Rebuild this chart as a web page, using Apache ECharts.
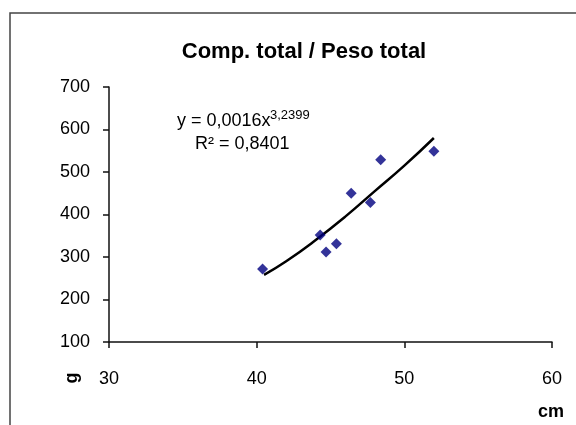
<!DOCTYPE html>
<html>
<head>
<meta charset="utf-8">
<script src="https://cdn.jsdelivr.net/npm/echarts@6/dist/echarts.min.js"></script>
<style>html,body{margin:0;padding:0;background:#fff}#c{width:576px;height:425px}</style>
</head>
<body>
<div id="c"></div>
<script>
// Observed points: total length (cm) vs total weight (g)
const lengthCm = [40.4, 44.3, 44.7, 45.4, 46.4, 47.7, 48.4, 52.0];
const weightG  = [272, 352, 312, 331, 450, 428, 529, 549];
// Power trend line
const trendX = [40.5, 42, 44, 46, 48, 50, 52];
const trendY = [258, 290, 340, 395, 455, 515, 580];
const xTicks = [30, 40, 50, 60];
const yTicks = [100, 200, 300, 400, 500, 600, 700];

const FONT = '"Liberation Sans Narrow", "Arial Narrow", "Liberation Sans", Arial, sans-serif';
const chart = echarts.init(document.getElementById('c'), null, {renderer: 'canvas'});
chart.setOption({
  animation: false,
  backgroundColor: '#fff',
  title: {
    text: 'Comp. total / Peso total',
    left: 299, top: 36, textAlign: 'center',
    textStyle: {fontFamily: FONT, fontWeight: 'bold', fontSize: 22, color: '#000'}
  },
  grid: {left: 109, right: 24, top: 87, bottom: 83},
  xAxis: {
    type: 'value', min: xTicks[0], max: xTicks[xTicks.length - 1], interval: 10,
    axisLine: {show: true, lineStyle: {color: '#111', width: 1.5}},
    axisTick: {show: true, length: 6, inside: false, lineStyle: {color: '#111', width: 1.5}},
    axisLabel: {margin: 28, fontFamily: FONT, fontSize: 18, color: '#000'},
    splitLine: {show: false}
  },
  yAxis: {
    type: 'value', min: yTicks[0], max: yTicks[yTicks.length - 1], interval: 100,
    axisLine: {show: true, lineStyle: {color: '#111', width: 1.5}},
    axisTick: {show: true, length: 6, lineStyle: {color: '#111', width: 1.5}},
    axisLabel: {margin: 19, fontFamily: FONT, fontSize: 18, color: '#000'},
    splitLine: {show: false}
  },
  series: [
    {
      type: 'line', data: trendX.map((x, i) => [x, trendY[i]]),
      smooth: true, symbol: 'none',
      lineStyle: {color: '#000', width: 2.5}, z: 2
    },
    {
      type: 'scatter', data: lengthCm.map((x, i) => [x, weightG[i]]),
      symbol: 'diamond', symbolSize: 11,
      itemStyle: {color: '#000080'}, z: 3
    }
  ],
  graphic: [
    {type: 'rect', shape: {x: 10, y: 13, width: 620, height: 460},
     style: {fill: 'none', stroke: '#444', lineWidth: 1.5}, silent: true},
    {type: 'text', x: 177, y: 130, style: {text: 'y = 0,0016x', fontFamily: FONT, fontSize: 18, fill: '#000', textVerticalAlign: 'bottom'}},
    {type: 'text', x: 270, y: 122, style: {text: '3,2399', fontFamily: FONT, fontSize: 13, fill: '#000', textVerticalAlign: 'bottom'}},
    {type: 'text', x: 195, y: 153, style: {text: 'R² = 0,8401', fontFamily: FONT, fontSize: 18, fill: '#000', textVerticalAlign: 'bottom'}},
    {type: 'text', x: 72, y: 378, rotation: Math.PI / 2,
     style: {text: 'g', fontFamily: FONT, fontSize: 18, fontWeight: 'bold', fill: '#000', textAlign: 'center', textVerticalAlign: 'middle'}},
    {type: 'text', x: 551, y: 412,
     style: {text: 'cm', fontFamily: FONT, fontSize: 18, fontWeight: 'bold', fill: '#000', textAlign: 'center', textVerticalAlign: 'middle'}}
  ]
});
</script>
</body>
</html>
